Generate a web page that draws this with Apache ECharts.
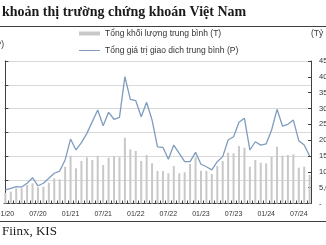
<!DOCTYPE html>
<html><head><meta charset="utf-8">
<script src="https://cdn.jsdelivr.net/npm/echarts@6/dist/echarts.min.js"></script>
<style>html,body{margin:0;padding:0;background:#fff;overflow:hidden}#c{width:326px;height:245px}</style>
</head><body><div id="c"></div>
<script>
const months = ['01/20','02/20','03/20','04/20','05/20','06/20','07/20','08/20','09/20','10/20','11/20','12/20',
'01/21','02/21','03/21','04/21','05/21','06/21','07/21','08/21','09/21','10/21','11/21','12/21',
'01/22','02/22','03/22','04/22','05/22','06/22','07/22','08/22','09/22','10/22','11/22','12/22',
'01/23','02/23','03/23','04/23','05/23','06/23','07/23','08/23','09/23','10/23','11/23','12/23',
'01/24','02/24','03/24','04/24','05/24','06/24','07/24','08/24','09/24'];
const tickLabels = ['01/20','07/20','01/21','07/21','01/22','07/22','01/23','07/23','01/24','07/24'];
// Tổng khối lượng trung bình (T) - left axis
const volume = [227,248,320,320,389,425,341,354,438,530,509,775,
1006,741,895,973,916,1006,810,964,1000,973,1385,1141,
1105,895,1021,846,686,684,636,789,636,657,831,973,
690,684,621,789,895,1069,1057,1210,1175,775,916,859,
846,985,1196,1006,1021,1036,754,775,600];
// Tổng giá trị giao dich trung bình (P) - right axis
const value = [4300,4800,5300,5200,6400,8150,5600,6400,7950,9550,10250,13750,
20350,16900,19200,22150,25850,29500,24550,28800,26600,27200,40050,32900,
32450,27400,31950,26350,17850,17750,13950,18450,15850,13200,13200,16150,
12400,11600,10600,13200,14800,20050,21100,25650,26900,16900,19500,18450,
18800,23200,29750,24450,25000,26350,19850,18450,15000];
const seriesNames = ['Tổng khối lượng trung bình (T)','Tổng giá trị giao dich trung bình (P)'];
const titleText = 'khoản thị trường chứng khoán Việt Nam';
const sourceText = 'Fiinx, KIS';

const chart = echarts.init(document.getElementById('c'), null, {renderer:'canvas'});
const labelIdx = tickLabels.map(t => months.indexOf(t));
const minorTicks = months.map((m,i)=>i+0.5).slice(0, months.length-1);
const fmt = v => v === 0 ? '-' : v.toLocaleString('en-US');
const lineColor = '#7f9cbf';
chart.setOption({
  animation:false,
  backgroundColor:'#fff',
  grid:{left:4, right:15, top:61, bottom:41.5, outerBoundsMode:'none', containLabel:false},
  legend:[
    {data:[{name:seriesNames[0], icon:'rect'}], left:79, top:29, padding:0, itemWidth:21, itemHeight:4, itemGap:0,
     textStyle:{fontFamily:'Liberation Sans', fontSize:8.5, color:'#333'}},
    {data:[{name:seriesNames[1], icon:'rect', itemStyle:{color:lineColor}}], left:79, top:46, padding:0, itemWidth:21, itemHeight:1, itemGap:0,
     textStyle:{fontFamily:'Liberation Sans', fontSize:8.5, color:'#333'}}
  ],
  xAxis:{type:'value', min:-0.25, max:56.25,
    axisLine:{show:true, lineStyle:{color:'#404040', width:1}},
    axisTick:{show:true, inside:true, length:3, customValues:minorTicks, lineStyle:{color:'#404040'}},
    axisLabel:{customValues:labelIdx, formatter:v=>months[Math.round(v)], fontFamily:'Liberation Sans', fontSize:7, color:'#333', margin:7},
    splitLine:{show:false}},
  yAxis:[
    {type:'value', min:0, max:3000, interval:500, position:'left',
      axisLine:{show:true, lineStyle:{color:'#404040'}},
      axisTick:{show:true, inside:true, length:3, lineStyle:{color:'#404040'}},
      axisLabel:{show:false},
      splitLine:{show:true, lineStyle:{color:'#d9d9d9', width:1}}},
    {type:'value', min:0, max:45000, interval:5000, position:'right',
      axisLine:{show:true, lineStyle:{color:'#404040'}},
      axisTick:{show:true, inside:true, length:3, lineStyle:{color:'#404040'}},
      axisLabel:{formatter:fmt, fontFamily:'Liberation Sans', fontSize:7.5, color:'#333', margin:8},
      splitLine:{show:false}}
  ],
  series:[
    {name:seriesNames[0], type:'bar', yAxisIndex:0, barWidth:2, data:volume.map((v,i)=>[i,v]),
     itemStyle:{color:'#c8c8c8'}},
    {name:seriesNames[1], type:'line', yAxisIndex:1, symbol:'none', showSymbol:false, data:value.map((v,i)=>[i,v]),
     lineStyle:{color:lineColor, width:1.3}, itemStyle:{color:lineColor}}
  ],
  graphic:[
    {type:'text', left:2, top:5, style:{text:titleText, font:'bold 14px "Liberation Serif"', fill:'#1a1a1a'}},
    {type:'line', shape:{x1:0,y1:26.5,x2:326,y2:26.5}, style:{stroke:'#404040', lineWidth:1}},
    {type:'text', x:4, y:45, style:{text:'(Triệu CP)', font:'8.5px "Liberation Sans"', fill:'#333', align:'right', verticalAlign:'middle'}},
    {type:'text', x:311, y:34, style:{text:'(Tỷ đồng)', font:'8.5px "Liberation Sans"', fill:'#333', align:'left', verticalAlign:'middle'}},
    {type:'line', shape:{x1:0,y1:221.5,x2:326,y2:221.5}, style:{stroke:'#404040', lineWidth:1}},
    {type:'text', left:2, top:225, style:{text:sourceText, font:'13px "Liberation Serif"', fill:'#1a1a1a'}}
  ]
});
</script></body></html>
